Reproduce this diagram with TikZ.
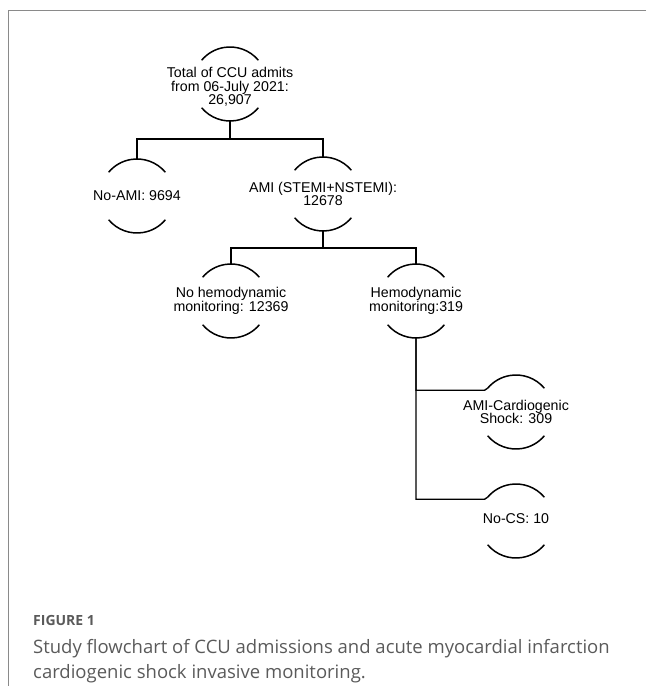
\documentclass[tikz,border=0pt]{standalone}
\usepackage{fontspec}
\setmainfont{Liberation Sans}
\newfontfamily\capfont{Open Sans}
\definecolor{framegray}{HTML}{8A8A8A}
\definecolor{captiongray}{HTML}{5A5A5A}
\def\R{37pt}
\tikzset{
  txt/.style={align=center, inner sep=0pt, font=\fontsize{14.2}{13.6}\selectfont},
  arcl/.style={line width=1.5pt, black},
  link/.style={line width=1.4pt, black},
}
\newcommand\flownode[4]{%
  \coordinate (#1) at (#2);
  \node[txt] (#1-txt) at ([yshift=#4]#1) {#3};
  \draw[arcl] ([shift={(40:\R)}]#1) arc[start angle=40,end angle=140,radius=\R];
  \draw[arcl] ([shift={(220:\R)}]#1) arc[start angle=220,end angle=320,radius=\R];
  \coordinate (#1-t) at ([yshift=\R]#1);
  \coordinate (#1-b) at ([yshift=-\R]#1);
  \coordinate (#1-l) at ([shift={(140:\R)}]#1);
}
\begin{document}
\begin{tikzpicture}[x=1pt,y=1pt]
\useasboundingbox (0,0) rectangle (646,686);
% frame
\draw[framegray, line width=0.9pt] (646,675.5) -- (8,675.5) -- (8,0);
% nodes
\flownode{n1}{230,602}{Total of CCU admits\\from 06-July 2021:\\26,907}{-3pt}
\flownode{noami}{137,490}{No-AMI: 9694}{0pt}
\flownode{ami}{323,492}{AMI (STEMI+NSTEMI):\\12678}{0pt}
\flownode{nohemo}{231,385}{No hemodynamic\\monitoring: 12369}{0pt}
\flownode{hemo}{416,385}{Hemodynamic\\monitoring:319}{0pt}
\flownode{amics}{516,274}{AMI-Cardiogenic\\Shock: 309}{0pt}
\flownode{nocs}{516,165}{No-CS: 10}{2pt}
% junctions
\coordinate (j1) at (230,547);
\coordinate (j2) at (323,438);
\draw[link] (n1-b) -- (j1);
\draw[link] (noami-t) |- (j1) -| (ami-t);
\draw[link] (ami-b) -- (j2);
\draw[link] (nohemo-t) |- (j2) -| (hemo-t);
\draw[link] (hemo-b) |- ([shift={(-3pt,-2pt)}]amics-l) -- (amics-l);
\draw[link] (hemo-b) |- ([shift={(-3pt,-2pt)}]nocs-l) -- (nocs-l);
% caption
\node[anchor=base west, inner sep=0pt, text=captiongray, font=\capfont\bfseries\fontsize{14}{16}\selectfont] (figlab) at (33,60) {FIGURE 1};
\node[anchor=base west, inner sep=0pt, text=captiongray, align=left, font=\capfont\fontsize{18.5}{25}\selectfont] (cap) at (33,8) {Study flowchart of CCU admissions and acute myocardial infarction\\cardiogenic shock invasive monitoring.};
\end{tikzpicture}
\end{document}
